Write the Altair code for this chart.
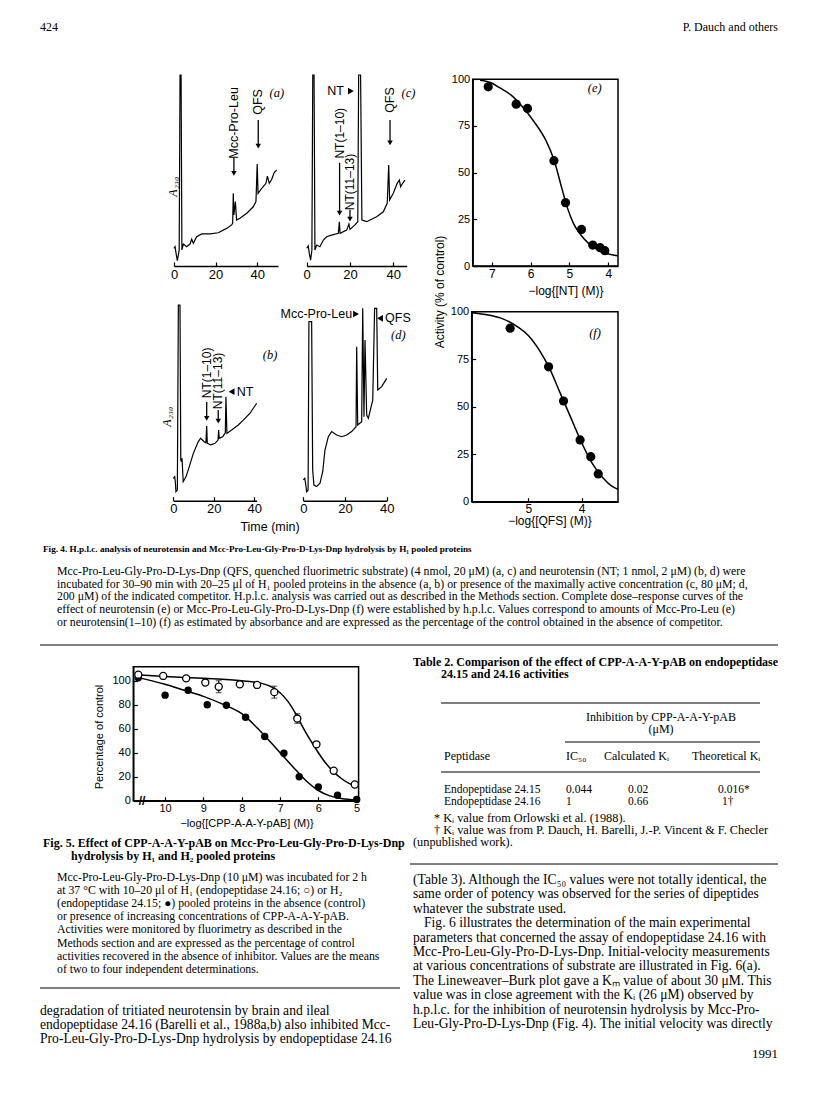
import altair as alt
import pandas as pd

W, H, M = 800, 1085, 8
SERIF = "Liberation Serif"
SANS = "Liberation Sans"

# ---------------- Fig. 4 chromatograms (time in min, A230 in % of panel height) ----
a_t = [0, 0.5, 1.0, 1.6, 2.5, 2.9, 3.4, 3.8, 4.5, 6.1, 7.7, 8.5, 9.3, 10.9, 13.3, 17.3, 21.3, 25.3, 27.7,
       28.2, 28.5, 28.8, 29.5, 30.1, 31.7, 35.0, 38.1, 39.4, 40.0, 40.4, 42.2, 44.2, 44.9, 45.8, 47.0, 48.1, 49.4]
a_v = [9.3, 10.1, 6.6, 2.8, 8.4, 100, 100, 8.4, 11.5, 10.1, 11.5, 14.0, 11.9, 15.3, 16.8, 16.8, 17.4, 19.7, 21.5,
       22.4, 38.1, 26.7, 33.7, 24.1, 25.0, 27.6, 31.0, 33.7, 53.4, 38.0, 40.7, 43.3, 47.1, 43.3, 45.4, 48.8, 50.3]
c_t = [0, 0.7, 1.2, 1.8, 2.4, 2.8, 3.4, 3.8, 4.6, 6.1, 7.7, 9.2, 11.5, 14.6, 15.1, 15.4, 18.5, 19.5, 20.0, 22.3,
       23.6, 24.0, 24.9, 25.5, 27.7, 32.3, 35.4, 37.2, 37.9, 38.3, 40.0, 41.8, 42.8, 43.4, 44.3, 45.4]
c_v = [9.3, 10.5, 6.6, 3.1, 8.4, 100, 100, 8.4, 11.0, 10.1, 13.6, 15.3, 16.2, 17.1, 23.2, 17.1, 18.8, 22.0, 19.2,
       21.5, 23.2, 100, 100, 24.1, 23.2, 25.8, 28.4, 32.8, 52.9, 34.6, 38.1, 43.3, 45.0, 41.5, 43.3, 45.0]
b_t = [0, 0.7, 1.0, 1.3, 2.0, 2.5, 3.3, 3.7, 4.0, 4.3, 4.9, 6.3, 7.9, 9.9, 12.3, 13.5, 15.2, 16.1, 16.5, 16.8,
       18.5, 20.6, 22.1, 22.4, 22.7, 24.4, 25.7, 26.0, 26.5, 28.8, 32.1, 34.6, 37.9, 41.2]
b_v = [11.4, 12.3, 9.7, 4.6, 5.5, 100, 100, 20.8, 19.9, 21.7, 9.7, 12.3, 17.4, 24.2, 30.1, 31.9, 30.1, 29.6, 38.2,
       29.3, 28.5, 29.3, 31.0, 36.1, 31.9, 32.7, 34.7, 53.1, 34.4, 36.1, 38.7, 41.2, 44.7, 49.8]
d_t = [0, 0.7, 1.1, 1.6, 2.3, 2.7, 4.0, 4.5, 5.1, 6.4, 8.0, 9.3, 10.4, 12.0, 13.6, 16.0, 18.4, 20.8, 23.2, 25.3,
       25.6, 26.1, 28.0, 28.5, 29.1, 29.6, 30.4, 31.2, 33.3, 34.2, 35.2, 35.7, 37.6, 40.0]
d_v = [10.6, 11.4, 8.9, 4.6, 5.5, 91.5, 91.5, 15.7, 8.0, 7.2, 8.9, 14.8, 25.9, 32.7, 35.3, 33.6, 32.7, 33.6, 35.3,
       37.8, 78.7, 38.7, 40.4, 98.3, 42.9, 82.1, 43.8, 42.1, 51.4, 98.3, 98.3, 56.6, 58.3, 62.5]
time_ticks = [0, 20, 40]

# ---------------- Fig. 4 dose-response ----
e_x = [7.09, 6.37, 6.08, 5.40, 5.10, 4.69, 4.40, 4.21, 4.09]
e_y = [96.0, 86.7, 84.4, 56.4, 33.9, 19.6, 11.2, 9.8, 8.2]
ec_x = [7.3, 7.0, 6.8, 6.5, 6.2, 5.9, 5.6, 5.4, 5.2, 5.05, 4.9, 4.7, 4.5, 4.3, 4.1, 3.9, 3.76]
ec_y = [99.5, 98, 95.5, 91.5, 85, 77, 67, 57, 42, 31, 23, 16.5, 12, 9, 7, 6, 5.5]
f_x = [5.34, 4.62, 4.34, 4.03, 3.83, 3.69]
f_y = [91.3, 71.0, 53.0, 32.5, 23.7, 14.6]
fc_x = [6.05, 5.8, 5.5, 5.2, 5.0, 4.8, 4.6, 4.4, 4.2, 4.0, 3.8, 3.6, 3.45, 3.32]
fc_y = [99.5, 98.5, 96.5, 92, 87.5, 80, 70, 57, 44, 31, 20, 12.5, 8.5, 6.5]
act_ticks = [0, 25, 50, 75, 100]
e_xticks = [7, 6, 5, 4]
f_xticks = [5, 4]

# ---------------- Fig. 5 ----
g_o_x = [10.7, 10.05, 9.45, 8.95, 8.6, 8.05, 7.6, 7.15, 6.55, 6.05, 5.6, 5.05]
g_o_y = [105, 104, 102, 98.5, 95, 97, 96.5, 90.5, 68.5, 47, 25, 13.5]
g_o_err = [0, 0, 0, 0, 5, 0, 0, 5, 4, 0, 0, 0]
g_f_x = [10.7, 10.0, 9.4, 8.9, 8.4, 7.9, 7.4, 6.9, 6.5, 6.0, 5.5, 5.0]
g_f_y = [102.5, 88, 92, 80, 79.5, 69.5, 53.5, 39.5, 20, 11.5, 4.5, 1]
g_oc_x = [10.75, 10.0, 9.0, 8.0, 7.5, 7.2, 7.0, 6.8, 6.6, 6.4, 6.2, 6.0, 5.8, 5.6, 5.4, 5.2, 5.0]
g_oc_y = [105, 103.5, 102, 100, 98, 94.5, 90, 83, 73, 61, 50, 40, 31, 24, 18.5, 14.5, 12]
g_fc_x = [10.75, 10.0, 9.5, 9.0, 8.5, 8.0, 7.5, 7.0, 6.6, 6.3, 6.0, 5.7, 5.4, 5.0]
g_fc_y = [103, 97, 92, 87, 80.5, 72.5, 57.5, 40, 26, 16, 8.5, 4, 1.8, 0.5]
g_yticks = [0, 20, 40, 60, 80, 100]
g_xticks = [10, 9, 8, 7, 6, 5]

# ---------------- texts ----
fig4_title = "Fig. 4. H.p.l.c. analysis of neurotensin and Mcc-Pro-Leu-Gly-Pro-D-Lys-Dnp hydrolysis by H\u2081 pooled proteins"
fig4_body = [
    "Mcc-Pro-Leu-Gly-Pro-D-Lys-Dnp (QFS, quenched fluorimetric substrate) (4 nmol, 20 \u03bcM) (a, c) and neurotensin (NT; 1 nmol, 2 \u03bcM) (b, d) were",
    "incubated for 30\u201390 min with 20\u201325 \u03bcl of H\u2081 pooled proteins in the absence (a, b) or presence of the maximally active concentration (c, 80 \u03bcM; d,",
    "200 \u03bcM) of the indicated competitor. H.p.l.c. analysis was carried out as described in the Methods section. Complete dose\u2013response curves of the",
    "effect of neurotensin (e) or Mcc-Pro-Leu-Gly-Pro-D-Lys-Dnp (f) were established by h.p.l.c. Values correspond to amounts of Mcc-Pro-Leu (e)",
    "or neurotensin(1\u201310) (f) as estimated by absorbance and are expressed as the percentage of the control obtained in the absence of competitor.",
]
fig5_title = ["Fig. 5. Effect of CPP-A-A-Y-pAB on Mcc-Pro-Leu-Gly-Pro-D-Lys-Dnp",
              "hydrolysis by H\u2081 and H\u2082 pooled proteins"]
fig5_body = [
    "Mcc-Pro-Leu-Gly-Pro-D-Lys-Dnp (10 \u03bcM) was incubated for 2 h",
    "at 37 \u00b0C with 10\u201320 \u03bcl of H\u2081 (endopeptidase 24.16; \u25cb) or H\u2082",
    "(endopeptidase 24.15; \u25cf) pooled proteins in the absence (control)",
    "or presence of increasing concentrations of CPP-A-A-Y-pAB.",
    "Activities were monitored by fluorimetry as described in the",
    "Methods section and are expressed as the percentage of control",
    "activities recovered in the absence of inhibitor. Values are the means",
    "of two to four independent determinations.",
]
left_body = [
    "degradation of tritiated neurotensin by brain and ileal",
    "endopeptidase 24.16 (Barelli et al., 1988a,b) also inhibited Mcc-",
    "Pro-Leu-Gly-Pro-D-Lys-Dnp hydrolysis by endopeptidase 24.16",
]
table_title = ["Table 2. Comparison of the effect of CPP-A-A-Y-pAB on endopeptidase",
               "24.15 and 24.16 activities"]
table_head = ["Peptidase", "IC\u2085\u2080", "Calculated K\u1d62", "Theoretical K\u1d62"]
table_rows = [["Endopeptidase 24.15", "0.044", "0.02", "0.016*"],
              ["Endopeptidase 24.16", "1", "0.66", "1\u2020"]]
footnotes = ["* K\u1d62 value from Orlowski et al. (1988).",
             "\u2020 K\u1d62 value was from P. Dauch, H. Barelli, J.-P. Vincent & F. Checler"]
footnote3 = "(unpublished work)."
right_body = [
    "(Table 3). Although the IC\u2085\u2080 values were not totally identical, the",
    "same order of potency was observed for the series of dipeptides",
    "whatever the substrate used.",
]
right_body2 = [
    "Fig. 6 illustrates the determination of the main experimental",
]
right_body3 = [
    "parameters that concerned the assay of endopeptidase 24.16 with",
    "Mcc-Pro-Leu-Gly-Pro-D-Lys-Dnp. Initial-velocity measurements",
    "at various concentrations of substrate are illustrated in Fig. 6(a).",
    "The Lineweaver\u2013Burk plot gave a K\u2098 value of about 30 \u03bcM. This",
    "value was in close agreement with the K\u1d62 (26 \u03bcM) observed by",
    "h.p.l.c. for the inhibition of neurotensin hydrolysis by Mcc-Pro-",
    "Leu-Gly-Pro-D-Lys-Dnp (Fig. 4). The initial velocity was directly",
]


# ---------------- helpers ----------------
def px(v):
    return v - M


blank = pd.DataFrame({"k": [0]})
layers = []

PAN = {
    "a": dict(xd=[0, 50], xr=(174, 278), yd=[0, 100], yr=(266, 75)),
    "c": dict(xd=[0, 46.2], xr=(306.7, 406.7), yd=[0, 100], yr=(266, 75)),
    "b": dict(xd=[0, 41.2], xr=(173.3, 256.7), yd=[0, 100], yr=(500.7, 305)),
    "d": dict(xd=[0, 40], xr=(303.3, 386.7), yd=[0, 100], yr=(500.7, 305)),
    "e": dict(xd=[3.75, 7.49], xr=(618, 472.7), yd=[0, 100], yr=(266, 79.3)),
    "f": dict(xd=[3.32, 6.06], xr=(618, 471.7), yd=[0, 100], yr=(501.7, 311.7)),
    "g": dict(xd=[4.95, 10.83], xr=(358.6, 133.3), yd=[0, 111.7], yr=(800.7, 666.7)),
}


def sc(dom, r0, r1):
    return alt.Scale(domain=dom, range=[px(r0), px(r1)], zero=False, nice=False)


def XY(p, xaxis=None, yaxis=None, xf="x", yf="y"):
    P = PAN[p]
    return dict(
        x=alt.X(f"{xf}:Q", scale=sc(P["xd"], *P["xr"]), axis=xaxis),
        y=alt.Y(f"{yf}:Q", scale=sc(P["yd"], *P["yr"]), axis=yaxis),
    )


def axis_kw(fs):
    return dict(grid=False, title=None, labelFont=SANS, labelFontSize=fs, labelColor="black",
                domainColor="black", tickColor="black", domainWidth=1.4, tickWidth=1.2,
                labelFlush=False, labelOverlap=False, format="d")


def ax_bottom(ypage, values, fs=12, pad=2, tick=4):
    return alt.Axis(orient="bottom", offset=px(ypage) - H, values=values,
                    tickSize=alt.ExprRef(expr=f"-{tick}"), labelPadding=pad + tick, **axis_kw(fs))


def ax_left(xpage, values, fs=11, pad=3, tick=4):
    return alt.Axis(orient="left", offset=-px(xpage), values=values,
                    tickSize=alt.ExprRef(expr=f"-{tick}"), labelPadding=pad + tick, **axis_kw(fs))


def txt(lines, x, y, size=13, weight="normal", align="left", font=SERIF, angle=0, lh=None,
        style="normal", baseline="alphabetic"):
    text = lines if isinstance(lines, str) else (lines if len(lines) > 1 else lines[0])
    kw = dict(text=text, font=font, fontSize=size, fontWeight=weight, align=align,
              baseline=baseline, angle=angle, fontStyle=style, color="black")
    if lh:
        kw["lineHeight"] = lh
    return alt.Chart(blank).mark_text(**kw).encode(x=alt.value(px(x)), y=alt.value(px(y)))


def hrule(x0, x1, y, w=1.0):
    return alt.Chart(blank).mark_rule(color="black", strokeWidth=w).encode(
        x=alt.value(px(x0)), x2=alt.value(px(x1)), y=alt.value(px(y)))


def dlabel(p, x, y, text, angle=0, size=12.5, align="center", baseline="middle", font=SANS,
           style="normal", weight="normal"):
    df = pd.DataFrame({"x": [x], "y": [y], "t": [text]})
    return alt.Chart(df).mark_text(angle=angle, fontSize=size, align=align, baseline=baseline,
                                   font=font, fontStyle=style, fontWeight=weight,
                                   color="black").encode(text="t:N", **XY(p))


def darrow(p, x, y0, y1):
    df = pd.DataFrame({"x": [x], "y": [y0], "y2": [y1]})
    r = alt.Chart(df).mark_rule(color="black", strokeWidth=1.3).encode(
        y2="y2:Q", **XY(p))
    tip = pd.DataFrame({"x": [x], "y": [y1]})
    t = alt.Chart(tip).mark_point(shape="triangle-down", filled=True, size=30, color="black",
                                  opacity=1).encode(**XY(p))
    return [r, t]


def harrow(p, x, y, shape):
    df = pd.DataFrame({"x": [x], "y": [y]})
    return alt.Chart(df).mark_point(shape=shape, filled=True, size=45, color="black",
                                    opacity=1).encode(**XY(p))


def trace(p, t, v, axis_y):
    df = pd.DataFrame({"x": t, "y": v})
    return alt.Chart(df).mark_line(color="black", strokeWidth=1.2).encode(
        **XY(p, xaxis=ax_bottom(axis_y, time_ticks, fs=13)))


# ---------------- chromatograms ----------------
layers.append(trace("a", a_t, a_v, 266))
layers.append(trace("c", c_t, c_v, 266))
layers.append(trace("b", b_t, b_v, 500.7))
layers.append(trace("d", d_t, d_v, 500.7))

A230 = "A\u2082\u2083\u2080"
layers.append(dlabel("a", -0.6, 41.5, A230, angle=270, font=SERIF, style="italic", size=12))
layers.append(dlabel("b", -3.3, 42.9, A230, angle=270, font=SERIF, style="italic", size=12))

# panel a annotations
layers.append(dlabel("a", 28.8, 74.9, "Mcc-Pro-Leu", angle=270))
layers += darrow("a", 28.8, 57, 48.5)
layers.append(dlabel("a", 40.5, 85.9, "QFS", angle=270))
layers += darrow("a", 40.5, 76.4, 62.8)
layers.append(dlabel("a", 49.4, 90.5, "(a)", font=SERIF, style="italic"))

# panel c annotations
layers.append(dlabel("c", 17.2, 91.6, "NT", align="right"))
layers.append(harrow("c", 20.4, 91.6, "triangle-right"))
layers.append(dlabel("c", 15.2, 69.5, "NT(1\u201310)", angle=270, size=12))
layers += darrow("c", 15.2, 54.0, 27.7)
layers.append(dlabel("c", 20.0, 44.0, "NT(11\u201313)", angle=270, size=12))
layers += darrow("c", 20.0, 29.5, 24.6)
layers.append(dlabel("c", 38.5, 86.9, "QFS", angle=270))
layers += darrow("c", 38.5, 76.4, 64.4)
layers.append(dlabel("c", 47.0, 90.5, "(c)", font=SERIF, style="italic"))

# panel b annotations
layers.append(dlabel("b", 16.5, 65.3, "NT(1\u201310)", angle=270, size=12))
layers += darrow("b", 16.5, 50.4, 42.1)
layers.append(dlabel("b", 22.2, 61.2, "NT(11\u201313)", angle=270, size=12))
layers += darrow("b", 22.2, 46.3, 40.7)
layers.append(harrow("b", 28.8, 55.7, "triangle-left"))
layers.append(dlabel("b", 31.3, 55.7, "NT", align="left"))
layers.append(dlabel("b", 47.8, 74.4, "(b)", font=SERIF, style="italic"))

# panel d annotations
layers.append(dlabel("d", 23.4, 95.4, "Mcc-Pro-Leu", align="right"))
layers.append(harrow("d", 25.3, 95.4, "triangle-right"))
layers.append(harrow("d", 36.8, 93.2, "triangle-left"))
layers.append(dlabel("d", 39.2, 93.2, "QFS", align="left"))
layers.append(dlabel("d", 45.6, 84.7, "(d)", font=SERIF, style="italic"))

layers.append(txt("Time (min)", 270, 531, size=12.5, font=SANS, align="center"))


# ---------------- dose-response panels ----------------
def frame(p):
    P = PAN[p]
    df = pd.DataFrame({"x": [P["xd"][0]], "x2": [P["xd"][1]], "y": [P["yd"][0]], "y2": [P["yd"][1]]})
    return alt.Chart(df).mark_rect(fill=None, stroke="black", strokeWidth=1.5).encode(
        x2="x2:Q", y2="y2:Q", **XY(p))


def curve(p, xs, ys, xaxis=None, yaxis=None):
    df = pd.DataFrame({"x": xs, "y": ys})
    return alt.Chart(df).mark_line(color="black", strokeWidth=1.5, interpolate="monotone").encode(
        **XY(p, xaxis=xaxis, yaxis=yaxis))


def dots(p, xs, ys, size=85, filled=True):
    df = pd.DataFrame({"x": xs, "y": ys})
    if filled:
        mk = alt.Chart(df).mark_circle(size=size, color="black", opacity=1)
    else:
        mk = alt.Chart(df).mark_point(shape="circle", size=size, fill="white", filled=True,
                                      stroke="black", strokeWidth=1.3, opacity=1)
    return mk.encode(**XY(p))


layers.append(frame("e"))
layers.append(curve("e", ec_x, ec_y, xaxis=ax_bottom(266, e_xticks, fs=12),
                    yaxis=ax_left(472.7, act_ticks, fs=11)))
layers.append(dots("e", e_x, e_y))
layers.append(dlabel("e", 4.35, 95.2, "(e)", font=SERIF, style="italic"))
layers.append(txt("\u2212log{[NT] (M)}", 566, 295, size=12, font=SANS, align="center"))

layers.append(frame("f"))
layers.append(curve("f", fc_x, fc_y, xaxis=ax_bottom(501.7, f_xticks, fs=12),
                    yaxis=ax_left(471.7, act_ticks, fs=11)))
layers.append(dots("f", f_x, f_y))
layers.append(dlabel("f", 3.75, 88.6, "(f)", font=SERIF, style="italic"))
layers.append(txt("\u2212log{[QFS] (M)}", 550, 525, size=12, font=SANS, align="center"))

layers.append(txt("Activity (% of control)", 440, 292, size=12, font=SANS, align="center",
                  angle=270, baseline="middle"))

# ---------------- Fig. 5 ----------------
layers.append(frame("g"))
layers.append(curve("g", g_oc_x, g_oc_y, xaxis=ax_bottom(800.7, g_xticks, fs=11),
                    yaxis=ax_left(133.3, g_yticks, fs=11)))
layers.append(curve("g", g_fc_x, g_fc_y))
err_df = pd.DataFrame({"x": g_o_x, "y": g_o_y, "e": g_o_err})
err_df = err_df[err_df["e"] > 0].assign(lo=lambda d: d.y - d.e, hi=lambda d: d.y + d.e)
layers.append(alt.Chart(err_df).mark_rule(color="black", strokeWidth=1).encode(
    y2="hi:Q", **XY("g", yf="lo")))
layers.append(alt.Chart(err_df).mark_tick(color="black", orient="horizontal", size=6, thickness=1).encode(
    **XY("g", yf="hi")))
layers.append(alt.Chart(err_df).mark_tick(color="black", orient="horizontal", size=6, thickness=1).encode(
    **XY("g", yf="lo")))
layers.append(dots("g", g_f_x, g_f_y, size=55))
layers.append(dots("g", g_o_x, g_o_y, size=50, filled=False))
layers.append(dlabel("g", 10.6, 0, "//", size=12, weight="bold"))
layers.append(txt("Percentage of control", 100, 737, size=11, font=SANS, align="center",
                  angle=270, baseline="middle"))
layers.append(txt("\u2212log{[CPP-A-A-Y-pAB] (M)}", 247, 827, size=11, font=SANS, align="center"))

# ---------------- page text ----------------
layers.append(txt("424", 40, 31, size=12))
layers.append(txt("P. Dauch and others", 778, 31, size=12, align="right"))

layers.append(txt(fig4_title, 43, 552, size=9.2, weight="bold"))
layers.append(txt(fig4_body, 57, 575, size=11.8, lh=12.7))
layers.append(hrule(40, 778, 645))

layers.append(txt(fig5_title[0], 43, 847, size=12, weight="bold"))
layers.append(txt(fig5_title[1], 71, 860, size=12, weight="bold"))
layers.append(txt(fig5_body, 57, 881, size=11.8, lh=13.1))
layers.append(hrule(40, 400, 988))
layers.append(txt(left_body, 40, 1015, size=13.6, lh=14.2))

layers.append(txt(table_title[0], 413, 666, size=12, weight="bold"))
layers.append(txt(table_title[1], 441, 678, size=12, weight="bold"))
layers.append(hrule(441, 760, 703))
layers.append(txt("Inhibition by CPP-A-A-Y-pAB", 661, 721, size=12, align="center"))
layers.append(txt("(\u03bcM)", 661, 733, size=12, align="center"))
layers.append(hrule(565, 760, 742))
col_x = [444, 566, 604, 692]
for j, h in enumerate(table_head):
    layers.append(txt(h, col_x[j], 760, size=12))
layers.append(hrule(441, 760, 772))
row_x = [444, 566, 628, 718]
for i, row in enumerate(table_rows):
    layers.append(txt(row[0], row_x[0], 793 + 12 * i, size=11.5))
    for j in range(1, 4):
        layers.append(txt(row[j], row_x[j] + (4 if (i == 1 and j == 3) else 0), 793 + 12 * i, size=11.5))
layers.append(txt(footnotes, 434, 822, size=12.3, lh=12))
layers.append(txt(footnote3, 413, 846, size=12.3))
layers.append(hrule(410, 778, 864))
layers.append(txt(right_body, 413, 884, size=13.6, lh=14.4))
layers.append(txt(right_body2, 424, 927.2, size=13.6))
layers.append(txt(right_body3, 413, 941.6, size=13.6, lh=14.4))
layers.append(txt("1991", 778, 1058, size=13, align="right"))

chart = (
    alt.layer(*layers)
    .resolve_scale(x="independent", y="independent")
    .properties(width=W, height=H, padding=0, autosize=alt.AutoSizeParams(type="none"))
    .configure_view(stroke=None)
)
chart.save("out.html", embed_options={"renderer": "svg", "actions": False})
